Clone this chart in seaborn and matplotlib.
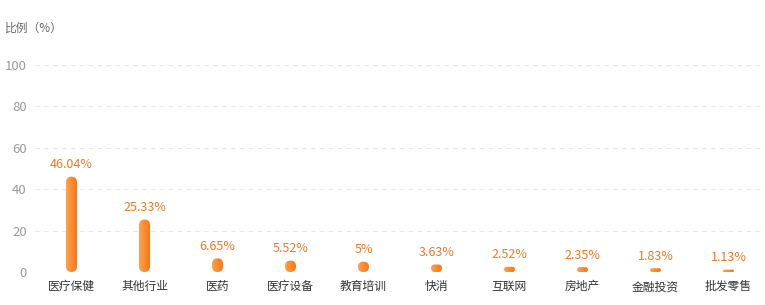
import matplotlib
matplotlib.use("Agg")
import matplotlib.pyplot as plt
import seaborn as sns
import numpy as np
import pandas as pd
from matplotlib.patches import FancyBboxPatch
from matplotlib.colors import LinearSegmentedColormap

categories = ["医疗保健", "其他行业", "医药", "医疗设备", "教育培训", "快消", "互联网", "房地产", "金融投资", "批发零售"]
values = [46.04, 25.33, 6.65, 5.52, 5.0, 3.63, 2.52, 2.35, 1.83, 1.13]
value_labels = ["46.04%", "25.33%", "6.65%", "5.52%", "5%", "3.63%", "2.52%", "2.35%", "1.83%", "1.13%"]
yticks = [0, 20, 40, 60, 80, 100]
ylabel = "比例（%）"

sns.set_theme(style="white")
plt.rcParams['font.family'] = ['Noto Sans CJK SC', 'DejaVu Sans']

W, H = 765, 305
fig = plt.figure(figsize=(W / 100, H / 100), dpi=100)
left_px, right_px, bottom_px, top_px = 35, 765, 272, 65
ax = fig.add_axes([left_px / W, (H - bottom_px) / H, (right_px - left_px) / W, (bottom_px - top_px) / H])

df = pd.DataFrame({"cat": categories, "val": values})
bw = 0.15
sns.barplot(data=df, x="cat", y="val", ax=ax, width=bw, color="#ff8a2a")

ax.set_xlim(-0.5, len(categories) - 0.5)
ax.set_ylim(0, 100)

# px per data unit
px_x = (right_px - left_px) / len(categories)
px_y = (bottom_px - top_px) / 100.0
aspect = px_x / px_y

cmap = LinearSegmentedColormap.from_list("og", ["#ffa248", "#f7761a"])
grad = np.linspace(0, 1, 64).reshape(1, -1)

for p in list(ax.patches):
    x0, w, h = p.get_x(), p.get_width(), p.get_height()
    p.set_visible(False)
    w_px, h_px = w * px_x, h * px_y
    r_px = min(w_px / 2, h_px / 2)
    r = r_px / px_x
    pill = FancyBboxPatch((x0, 0), w, h,
                          boxstyle=f"round,pad=0,rounding_size={r}",
                          mutation_aspect=aspect,
                          facecolor="none", edgecolor="none", transform=ax.transData)
    ax.add_patch(pill)
    im = ax.imshow(grad, extent=[x0, x0 + w, 0, h], aspect="auto", cmap=cmap,
                   zorder=3, interpolation="bilinear")
    im.set_clip_path(pill)

ax.set_xlim(-0.5, len(categories) - 0.5)
ax.set_ylim(0, 100)
ax.set_aspect("auto")

for i, (v, lab) in enumerate(zip(values, value_labels)):
    ax.annotate(lab, (i, v), xytext=(0, 4), textcoords="offset points",
                ha="center", va="bottom", fontsize=9, color="#ec7824", zorder=5)

ax.set_yticks(yticks)
ax.set_yticklabels([str(t) for t in yticks], fontsize=9.5, color="#999999")
ax.tick_params(axis="y", length=0, pad=6)
ax.tick_params(axis="x", length=0, pad=6, labelsize=8.5, labelcolor="#333333")
for t in yticks:
    ax.axhline(t, color="#e6e6e6", linewidth=0.8, linestyle=(0, (4, 4)), zorder=0)
for s in ax.spines.values():
    s.set_visible(False)
ax.set_xlabel("")
ax.set_ylabel("")
fig.text(5 / W, 1 - 28 / H, ylabel, fontsize=8.5, color="#666666", va="center", ha="left")

fig.savefig("out.png", dpi=100)
